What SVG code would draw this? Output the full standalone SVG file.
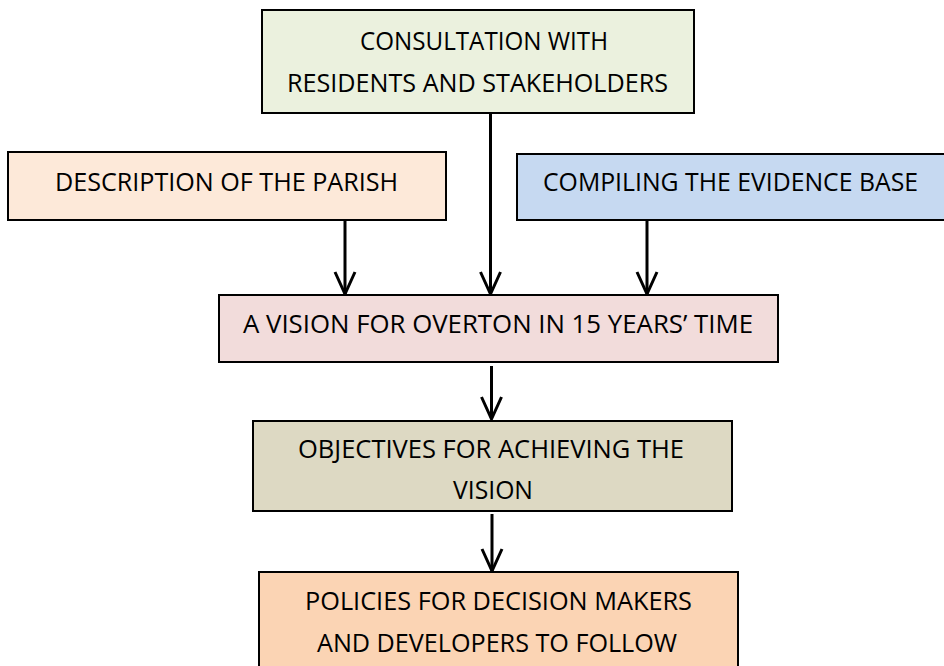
<svg xmlns="http://www.w3.org/2000/svg" width="944" height="666" viewBox="0 0 944 666">
<style>
.box{stroke:#000;stroke-width:2}
.t{font-family:"Open Sans","Liberation Sans",sans-serif;font-size:26px;fill:#000}
.c{stroke:#000;stroke-width:3;fill:none}
</style>
<defs>
<marker id="ah" markerUnits="userSpaceOnUse" markerWidth="28" markerHeight="26" refX="25" refY="13" orient="auto" viewBox="0 0 28 26">
<path d="M3,3 L25,13 L3,23" fill="none" stroke="#000" stroke-width="3"/>
</marker>
</defs>
<rect width="944" height="666" fill="#fff"/>
<g id="connectors">
<line class="c" x1="345" y1="221" x2="345" y2="294" marker-end="url(#ah)"/>
<line class="c" x1="490.5" y1="114" x2="490.5" y2="294" marker-end="url(#ah)"/>
<line class="c" x1="647" y1="221" x2="647" y2="294" marker-end="url(#ah)"/>
<line class="c" x1="491.5" y1="366" x2="491.5" y2="419" marker-end="url(#ah)"/>
<line class="c" x1="492" y1="514" x2="492" y2="571" marker-end="url(#ah)"/>
</g>
<g id="consultation">
<rect class="box" x="262" y="10" width="432" height="103" fill="#EBF1DE"/>
<text class="t" x="360" y="50" textLength="248" lengthAdjust="spacingAndGlyphs">CONSULTATION WITH</text>
<text class="t" x="287" y="91.5" textLength="381" lengthAdjust="spacingAndGlyphs">RESIDENTS AND STAKEHOLDERS</text>
</g>
<g id="description">
<rect class="box" x="8" y="152" width="438" height="68" fill="#FDE9D9"/>
<text class="t" x="55" y="190.5" textLength="343" lengthAdjust="spacingAndGlyphs">DESCRIPTION OF THE PARISH</text>
</g>
<g id="evidence">
<rect class="box" x="517" y="154" width="440" height="66" fill="#C6D9F1"/>
<text class="t" x="543" y="191" textLength="375" lengthAdjust="spacingAndGlyphs">COMPILING THE EVIDENCE BASE</text>
</g>
<g id="vision">
<rect class="box" x="219" y="295" width="559" height="67" fill="#F2DCDB" stroke-width="1.5"/>
<text class="t" x="243" y="333" textLength="510" lengthAdjust="spacingAndGlyphs">A VISION FOR OVERTON IN 15 YEARS’ TIME</text>
</g>
<g id="objectives">
<rect class="box" x="253" y="421" width="479" height="90" fill="#DDD9C3" stroke-width="1.5"/>
<text class="t" x="298" y="458" textLength="386" lengthAdjust="spacingAndGlyphs">OBJECTIVES FOR ACHIEVING THE</text>
<text class="t" x="453" y="499" textLength="80" lengthAdjust="spacingAndGlyphs">VISION</text>
</g>
<g id="policies">
<rect class="box" x="259" y="572" width="479" height="110" fill="#FBD4B4"/>
<text class="t" x="305" y="610" textLength="387" lengthAdjust="spacingAndGlyphs">POLICIES FOR DECISION MAKERS</text>
<text class="t" x="317" y="652" textLength="360" lengthAdjust="spacingAndGlyphs">AND DEVELOPERS TO FOLLOW</text>
</g>
</svg>
